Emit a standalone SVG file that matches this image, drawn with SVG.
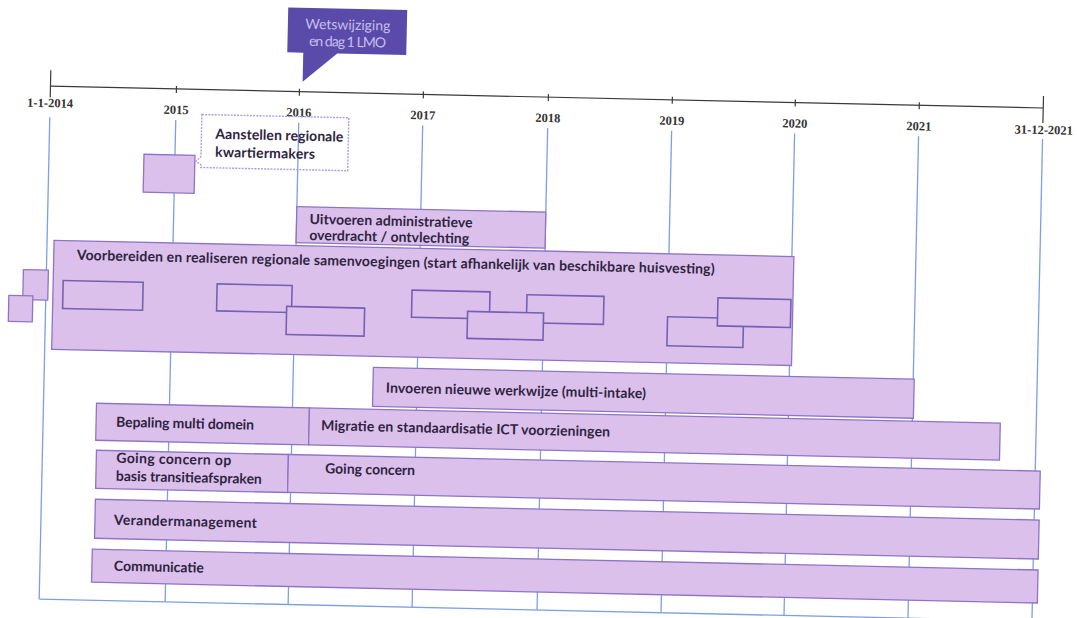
<svg xmlns="http://www.w3.org/2000/svg" width="1077" height="618" viewBox="0 0 1077 618">
<style>
.bar{fill:#dcc0ec;stroke:#8d74c6;stroke-width:1.3}
.sub{fill:#dcc0ec;stroke:#7660b4;stroke-width:1.6}
.grid{stroke:#7d9fe3;stroke-width:1.3;fill:none}
.axis{stroke:#3a3a3a;stroke-width:1.2;fill:none}
.lbl{font-family:Lato,"Open Sans",sans-serif;font-weight:700;font-size:14px;fill:#2e2440}
.year{font-family:"Liberation Serif",serif;font-weight:700;font-size:12.5px;fill:#333;text-anchor:middle}
.wet{font-family:Lato,"Open Sans",sans-serif;font-size:14px;fill:#c8bfea;text-anchor:middle}
</style>
<rect width="1077" height="618" fill="#ffffff"/>
<g transform="rotate(1.26 540 340)">
<g id="timeline">
<line class="axis" x1="45" y1="97" x2="1038" y2="97"/>
<line class="axis" x1="45" y1="81" x2="45" y2="108"/>
<line class="axis" x1="1038" y1="85" x2="1038" y2="112"/>
<g class="axis">
<line x1="171" y1="94" x2="171" y2="101"/>
<line x1="294" y1="94" x2="294" y2="101"/>
<line x1="418" y1="94" x2="418" y2="101"/>
<line x1="543" y1="94" x2="543" y2="101"/>
<line x1="667" y1="94" x2="667" y2="101"/>
<line x1="790" y1="94" x2="790" y2="101"/>
<line x1="914" y1="94" x2="914" y2="101"/>
</g>
<text class="year" x="45" y="118">1-1-2014</text>
<text class="year" x="171" y="122">2015</text>
<text class="year" x="294" y="122">2016</text>
<text class="year" x="418" y="122">2017</text>
<text class="year" x="543" y="122">2018</text>
<text class="year" x="667" y="122">2019</text>
<text class="year" x="790" y="122">2020</text>
<text class="year" x="914" y="122">2021</text>
<text class="year" x="1039" y="123">31-12-2021</text>
<g class="grid">
<line x1="45" y1="128" x2="45" y2="610"/>
<line x1="171" y1="128" x2="171" y2="610"/>
<line x1="294" y1="128" x2="294" y2="610"/>
<line x1="418" y1="128" x2="418" y2="610"/>
<line x1="543" y1="128" x2="543" y2="610"/>
<line x1="667" y1="128" x2="667" y2="610"/>
<line x1="790" y1="128" x2="790" y2="610"/>
<line x1="914" y1="128" x2="914" y2="610"/>
<line x1="1038" y1="128" x2="1038" y2="610"/>
<line x1="45" y1="610" x2="1038" y2="610"/>
</g>
</g>
<g id="callout-wetswijziging">
<path d="M281,13 H400 V58 H331 L297,87 L297,58 H281 Z" fill="#5a4baa"/>
<text class="wet" x="341" y="34" textLength="85">Wetswijziging</text>
<text class="wet" x="341" y="51" textLength="77">en dag 1 LMO</text>
</g>
<g id="kwartiermakers">
<rect class="bar" x="140" y="163" width="51" height="38"/>
</g>
<g id="callout-kwartiermakers">
<path d="M197,122 H344 V175 H197 V172 L192,169 L197,164 Z" fill="none" stroke="#a4a0e4" stroke-width="1.4" stroke-dasharray="2 1.2"/>
<text class="lbl" x="211" y="146" textLength="128">Aanstellen regionale</text>
<text class="lbl" x="211" y="164" textLength="100">kwartiermakers</text>
</g>
<g id="uitvoeren">
<rect class="bar" x="294" y="212" width="249" height="36"/>
<text class="lbl" x="307" y="229" textLength="163">Uitvoeren administratieve</text>
<text class="lbl" x="307" y="245" textLength="160">overdracht / ontvlechting</text>
</g>
<g id="voorbereiden">
<rect class="bar" x="52" y="251" width="740" height="109"/>
<text class="lbl" x="75" y="270" textLength="638">Voorbereiden en realiseren regionale samenvoegingen (start afhankelijk van beschikbare huisvesting)</text>
<rect class="sub" x="62" y="291" width="80" height="28"/>
<rect class="sub" x="216" y="291" width="75" height="27"/>
<rect class="sub" x="286" y="312" width="78" height="28"/>
<rect class="sub" x="411" y="293" width="78" height="27"/>
<rect class="sub" x="526" y="295" width="77" height="28"/>
<rect class="sub" x="467" y="313" width="76" height="27"/>
<rect class="sub" x="667" y="314" width="76" height="29"/>
<rect class="sub" x="717" y="294" width="73" height="28"/>
</g>
<g id="left-squares">
<rect class="bar" x="22" y="281" width="25" height="30"/>
<rect class="bar" x="8" y="307" width="24" height="26"/>
</g>
<g id="invoeren">
<rect class="bar" x="374" y="371" width="541" height="39"/>
<text class="lbl" x="387" y="396" textLength="260">Invoeren nieuwe werkwijze (multi-intake)</text>
</g>
<g id="bepaling">
<rect class="bar" x="98" y="413" width="213" height="37"/>
<text class="lbl" x="118" y="436" textLength="138">Bepaling multi domein</text>
</g>
<g id="migratie">
<rect class="bar" x="311" y="413" width="691" height="37"/>
<text class="lbl" x="323" y="435" textLength="289">Migratie en standaardisatie ICT voorzieningen</text>
</g>
<g id="going-concern-op">
<rect class="bar" x="99" y="460" width="192" height="38"/>
<text class="lbl" x="119" y="472" textLength="115">Going concern op</text>
<text class="lbl" x="119" y="490" textLength="146">basis transitieafspraken</text>
</g>
<g id="going-concern">
<rect class="bar" x="291" y="460" width="752" height="38"/>
<text class="lbl" x="328" y="478" textLength="90">Going concern</text>
</g>
<g id="verandermanagement">
<rect class="bar" x="99" y="509" width="944" height="39"/>
<text class="lbl" x="118" y="534" textLength="143">Verandermanagement</text>
</g>
<g id="communicatie">
<rect class="bar" x="97" y="559" width="946" height="33"/>
<text class="lbl" x="119" y="580" textLength="90">Communicatie</text>
</g>
</g>
</svg>
